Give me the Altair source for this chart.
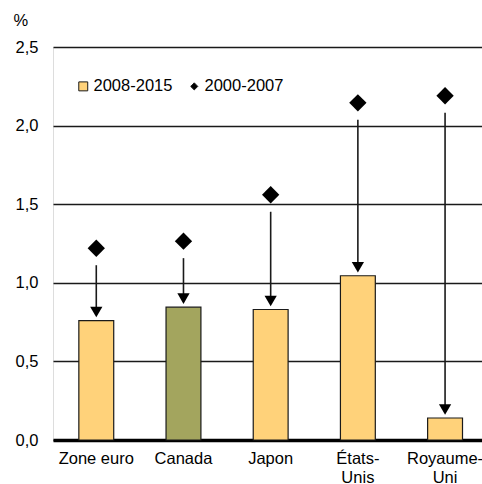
import altair as alt
import pandas as pd

countries = ["Zone euro", "Canada", "Japon", "États-Unis", "Royaume-Uni"]
v_2008_2015 = [0.76, 0.845, 0.83, 1.045, 0.14]
v_2000_2007 = [1.22, 1.265, 1.56, 2.145, 2.19]
bar_colors = ["#FFD27A", "#A3A55E", "#FFD27A", "#FFD27A", "#FFD27A"]
series = ["2008-2015", "2000-2007"]
y_ticks = [0, 0.5, 1.0, 1.5, 2.0, 2.5]

df = pd.DataFrame({
    "pays": countries,
    "recent": v_2008_2015,
    "ancien": v_2000_2007,
    "couleur": bar_colors,
})
leg = pd.DataFrame({"serie": series})

FONT = "Liberation Sans"
FS = 16.5

label_expr = (
    "datum.value == 'États-Unis' ? ['États-', 'Unis'] : "
    "datum.value == 'Royaume-Uni' ? ['Royaume-', 'Uni'] : datum.value"
)

x = alt.X(
    "pays:N",
    sort=countries,
    scale=alt.Scale(paddingInner=0.6, paddingOuter=0.26, align=0.57),
    axis=alt.Axis(
        title=None, labelAngle=0, ticks=False, domain=True, domainColor="#000000",
        domainWidth=3.5, labelFont=FONT, labelFontSize=FS, labelColor="#000000",
        labelPadding=10, labelExpr=label_expr, labelLineHeight=19, labelBaseline="top",
    ),
)
yscale = alt.Scale(domain=[0, 2.5], nice=False)

bars = alt.Chart(df).mark_bar(stroke="#1a1a1a", strokeWidth=1.2).encode(
    x=x,
    y=alt.Y(
        "recent:Q", scale=yscale,
        axis=alt.Axis(
            values=y_ticks, format=".1f", grid=True, gridColor="#1a1a1a", gridWidth=1.3,
            domain=False, ticks=False, labelFont=FONT, labelFontSize=FS,
            labelColor="#000000", labelPadding=15,
            title="%", titleAngle=0, titleFont=FONT, titleFontSize=FS,
            titleFontWeight="normal", titleColor="#000000", titleAlign="left",
            titleBaseline="middle", titleX=-40, titleY=-27,
        ),
    ),
    fill=alt.Fill("couleur:N", scale=None),
)

arrows = alt.Chart(df).mark_rule(
    color="#1a1a1a", strokeWidth=1.6, yOffset=17, y2Offset=-9
).encode(
    x=alt.X("pays:N", sort=countries),
    y=alt.Y("ancien:Q", scale=yscale),
    y2="recent:Q",
)

heads = alt.Chart(df).mark_point(
    shape="triangle-down", filled=True, color="#000000", size=150, yOffset=-8.5, opacity=1
).encode(
    x=alt.X("pays:N", sort=countries),
    y=alt.Y("recent:Q", scale=yscale),
)

diamonds = alt.Chart(df).mark_point(
    shape="diamond", filled=True, color="#000000", size=300, opacity=1
).encode(
    x=alt.X("pays:N", sort=countries),
    y=alt.Y("ancien:Q", scale=yscale),
)

# legend-only layer: data filtered out, scale domains explicit
legend_layer = alt.Chart(leg).mark_point(
    filled=True, opacity=1, stroke="#1a1a1a", strokeWidth=1
).encode(
    color=alt.Color(
        "serie:N", sort=series,
        scale=alt.Scale(domain=series, range=["#FFD27A", "#000000"]),
        legend=alt.Legend(
            title=None, orient="none", legendX=22, legendY=31, direction="horizontal",
            labelFont=FONT, labelFontSize=FS, labelColor="#000000", columnPadding=13,
            symbolStrokeColor="#1a1a1a", symbolStrokeWidth=1, symbolOpacity=1,
            labelOffset=2,
        ),
    ),
    shape=alt.Shape(
        "serie:N", sort=series,
        scale=alt.Scale(domain=series, range=["square", "diamond"]),
    ),
    size=alt.Size(
        "serie:N", sort=series,
        scale=alt.Scale(domain=series, range=[80, 50]),
    ),
).transform_filter("false")

chart = alt.layer(bars, arrows, heads, diamonds, legend_layer).properties(
    width=429, height=393,
    autosize=alt.AutoSizeParams(type="none"),
    padding={"left": 53, "top": 47, "right": 0, "bottom": 44},
).configure_view(stroke=None).configure(
    locale={"number": {"decimal": ",", "thousands": " ", "grouping": [3], "currency": ["", " €"]}}
).configure_axis(labelFont=FONT).configure_legend(labelFont=FONT)

chart.save("out.html", embed_options={"renderer": "svg", "actions": False})
